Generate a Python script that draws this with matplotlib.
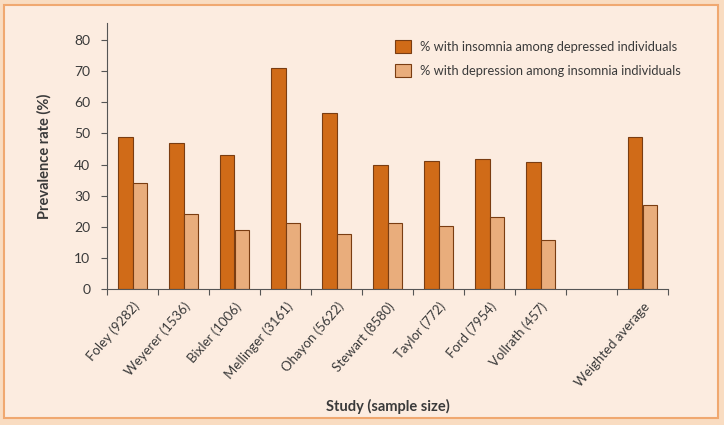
import matplotlib.pyplot as plt
import numpy as np
from matplotlib.patches import Rectangle

plt.rcParams['font.family'] = ['Lato', 'DejaVu Sans']

studies = ["Foley (9282)", "Weyerer (1536)", "Bixler (1006)", "Mellinger (3161)",
           "Ohayon (5622)", "Stewart (8580)", "Taylor (772)", "Ford (7954)",
           "Vollrath (457)", "", "Weighted average"]
insomnia_in_depressed = [49, 46.8, 43, 71, 56.5, 40, 41, 41.8, 40.8, np.nan, 49]
depression_in_insomnia = [34.1, 24.1, 19, 21.2, 17.7, 21.2, 20.2, 23, 15.9, np.nan, 27.1]

dark = '#d06b18'
light = '#e9ad7c'
edge = '#7a3d12'
text_col = '#3a3a3a'

fig = plt.figure(figsize=(7.24, 4.25), dpi=100)
fig.patch.set_facecolor('#f9dcc1')
# inner panel with orange border (kept behind the axes)
fig.patches.append(Rectangle((4 / 724, 1 - 418 / 425), 714 / 724, 413 / 425,
                             transform=fig.transFigure, facecolor='#fcece0',
                             edgecolor='#f0a870', linewidth=1.5, zorder=-10))

ax = fig.add_axes([107 / 724, 1 - 289 / 425, 561 / 724, 266 / 425])
ax.set_facecolor('none')

x = np.arange(len(studies))
w = 0.28
ax.bar(x - w / 2, insomnia_in_depressed, w, color=dark, edgecolor=edge, linewidth=0.8,
       label='% with insomnia among depressed individuals')
ax.bar(x + w / 2, depression_in_insomnia, w, color=light, edgecolor=edge, linewidth=0.8,
       label='% with depression among insomnia individuals')

ax.set_xlim(-0.5, len(studies) - 0.5)
ax.set_ylim(0, 85.5)
ax.set_yticks(range(0, 81, 10))
ax.set_xticks(x)
ax.set_xticklabels(studies, rotation=49, ha='right', rotation_mode='anchor',
                   fontsize=9.5, color=text_col)
ax.set_xticks(np.arange(-0.5, len(studies)), minor=True)
ax.tick_params(axis='x', which='major', length=0, pad=8)
ax.tick_params(axis='x', which='minor', length=4, color='#555555', width=0.8)
ax.tick_params(axis='y', length=4, color='#555555', width=0.8, labelsize=10,
               labelcolor=text_col, pad=8)

for s in ['top', 'right']:
    ax.spines[s].set_visible(False)
for s in ['left', 'bottom']:
    ax.spines[s].set_color('#555555')
    ax.spines[s].set_linewidth(0.8)

ax.set_ylabel('Prevalence rate (%)', fontsize=10.5, fontweight='bold', color=text_col, labelpad=16)
ax.set_xlabel('Study (sample size)', fontsize=10.5, fontweight='bold', color=text_col)
ax.xaxis.set_label_coords(0.5, -(399 - 289) / 266)

leg = ax.legend(loc='upper left', bbox_to_anchor=(0.493, 0.98), frameon=False, fontsize=9.3,
                handlelength=1.2, handleheight=1.2, handletextpad=0.7, labelspacing=0.85,
                labelcolor=text_col)

fig.savefig('out.png', dpi=100, facecolor=fig.get_facecolor())
